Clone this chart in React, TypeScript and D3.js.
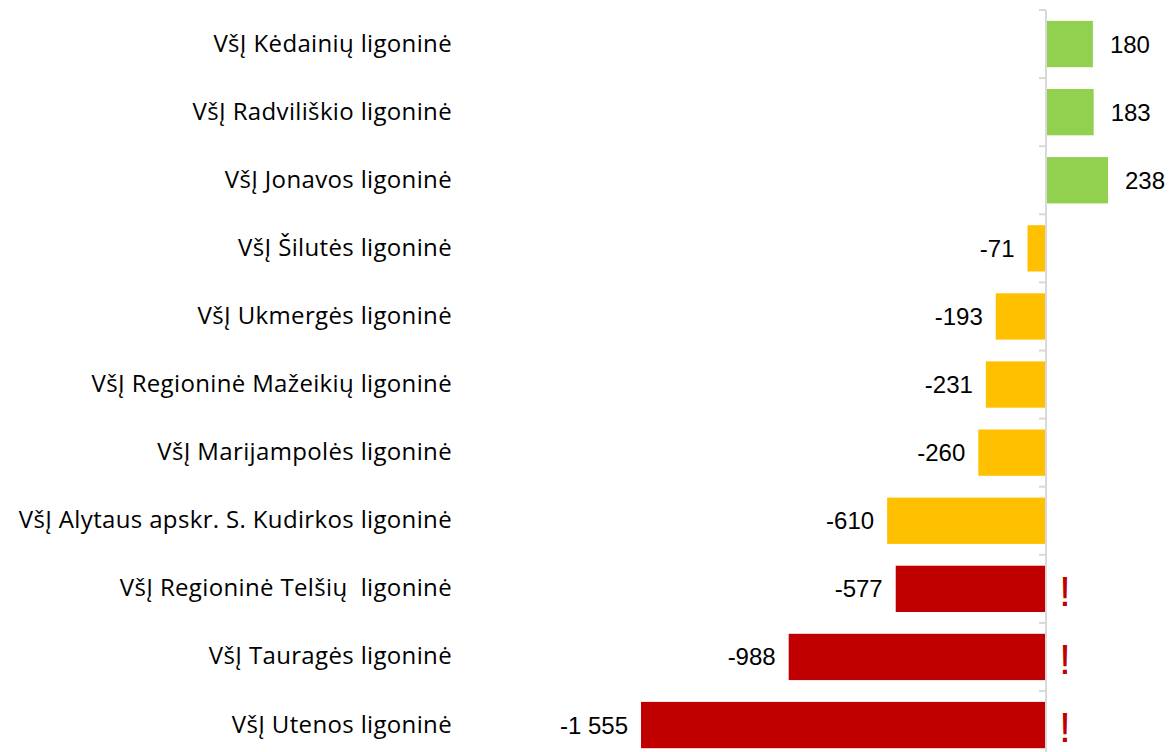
import * as d3 from 'd3'

// hospitals, top to bottom
const hospitals = [
    'VšĮ Kėdainių ligoninė',
    'VšĮ Radviliškio ligoninė',
    'VšĮ Jonavos ligoninė',
    'VšĮ Šilutės ligoninė',
    'VšĮ Ukmergės ligoninė',
    'VšĮ Regioninė Mažeikių ligoninė',
    'VšĮ Marijampolės ligoninė',
    'VšĮ Alytaus apskr. S. Kudirkos ligoninė',
    'VšĮ Regioninė Telšių  ligoninė',
    'VšĮ Tauragės ligoninė',
    'VšĮ Utenos ligoninė',
]
const results = [180, 183, 238, -71, -193, -231, -260, -610, -577, -988, -1555]
// g = positive, y = negative, r = negative & flagged
const groups = ['g', 'g', 'g', 'y', 'y', 'y', 'y', 'y', 'r', 'r', 'r']

const colors = { g: '#92D050', y: '#FFC000', r: '#C00000' }

const width = 1169
const height = 752

const fmt = (v) => {
    const s = d3.format(',')(Math.abs(v)).replace(/,/g, '\u00a0')
    return (v < 0 ? '-' : '') + s
}

export default function App() {
    const x = d3.scaleLinear()
        .domain([d3.min(results), d3.max(results)])
        .range([641, 1108])

    const y = d3.scaleBand()
        .domain(hospitals)
        .range([10, 10 + hospitals.length * 68.1])
        .paddingInner(0.32)
        .paddingOuter(0.16)

    const step = y.step()
    const x0 = x(0)

    return (
        <svg width={width} height={height} style={{ position: 'absolute', left: 0, top: 0, background: '#fff' }}>
            <g>
                {hospitals.map((h, i) => {
                    const v = results[i]
                    const cy = y(h) + y.bandwidth() / 2
                    return (
                        <g key={h}>
                            <rect
                                x={Math.min(x(v), x0)}
                                y={y(h)}
                                width={Math.abs(x(v) - x0)}
                                height={y.bandwidth()}
                                fill={colors[groups[i]]}
                            />
                            <text
                                x={452}
                                y={cy - 2}
                                textAnchor="end"
                                dominantBaseline="central"
                                fontFamily="'Open Sans', sans-serif"
                                fontSize={24}
                                letterSpacing={0.35}
                                fill="#000"
                                style={{ whiteSpace: 'pre' }}
                            >{h}</text>
                            <text
                                x={v < 0 ? x(v) - 13 : x(v) + 17}
                                y={cy}
                                textAnchor={v < 0 ? 'end' : 'start'}
                                dominantBaseline="central"
                                fontFamily="'Liberation Sans', Arial, sans-serif"
                                fontSize={24}
                                fill="#000"
                            >{fmt(v)}</text>
                            {groups[i] === 'r' && (
                                <text
                                    x={x0 + 19}
                                    y={cy + 2}
                                    textAnchor="middle"
                                    dominantBaseline="central"
                                    fontFamily="'Liberation Sans', Arial, sans-serif"
                                    fontSize={43}
                                    fill="#C00000"
                                >!</text>
                            )}
                        </g>
                    )
                })}
            </g>
            <g className="axis">
                {d3.range(hospitals.length + 1).map((i) => (
                    <line
                        key={i}
                        x1={x0 - 7}
                        x2={x0}
                        y1={10 + i * step}
                        y2={10 + i * step}
                        stroke="#d9d9d9"
                        strokeWidth={2}
                    />
                ))}
                <line x1={x0} x2={x0} y1={10} y2={height} stroke="#d9d9d9" strokeWidth={2} />
            </g>
        </svg>
    )
}
